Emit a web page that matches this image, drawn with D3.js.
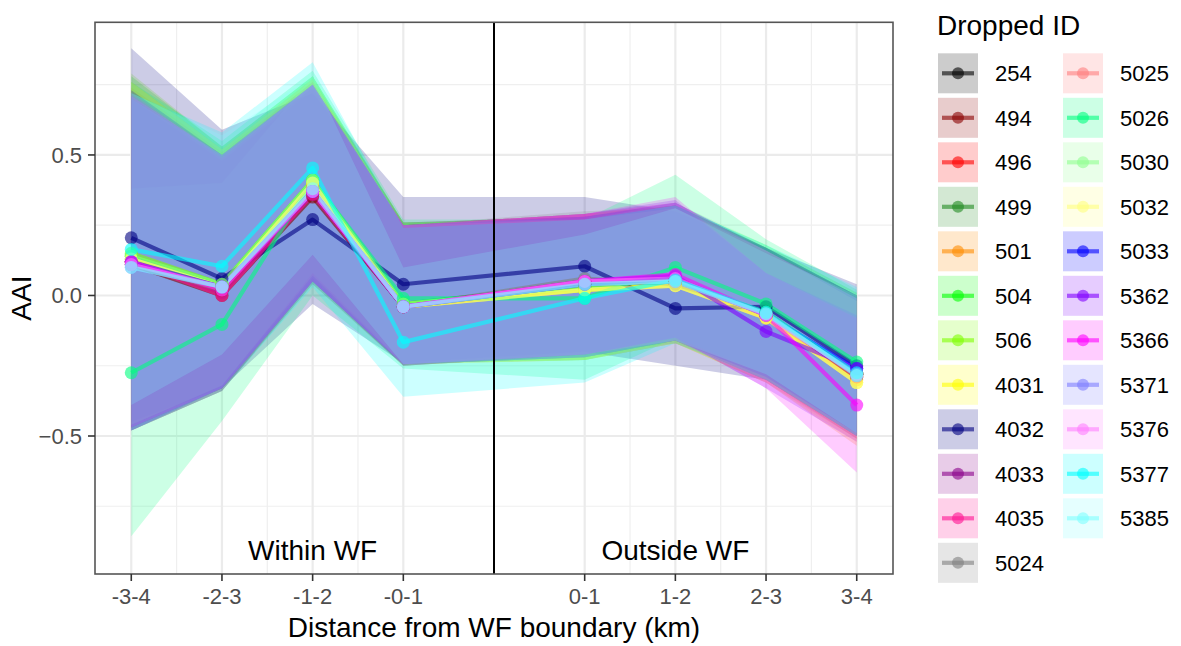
<!DOCTYPE html>
<html lang="en">
<head>
  <meta charset="UTF-8">
  <title>AAI by distance from WF boundary</title>
  <script src="https://d3js.org/d3.v7.min.js"></script>
  <style>
    html, body {
      margin: 0;
      background: #fff;
      font-family: "Liberation Sans", Arial, sans-serif;
    }
    svg text { font-family: "Liberation Sans", Arial, sans-serif; }
  </style>
</head>
<body>
  <svg id="chart" width="1181" height="646"></svg>

  <script>
    // ---- data ----
    const xPos = [-4, -3, -2, -1, 1, 2, 3, 4];
    const xLabels = ["-3-4", "-2-3", "-1-2", "-0-1", "0-1", "1-2", "2-3", "3-4"];
    const yTicks = [-0.5, 0, 0.5];

    const ids = ["254", "494", "496", "499", "501", "504", "506", "4031", "4032", "4033", "4035", "5024",
      "5025", "5026", "5030", "5032", "5033", "5362", "5366", "5371", "5376", "5377", "5385"];

    const colors = ["#000000", "#8B0000", "#FF0000", "#228B22", "#FF8C00", "#00FF00", "#7FFF00", "#FFFF00",
      "#000080", "#8B008B", "#FF1493", "#808080", "#FF7F7F", "#00FF7F", "#8FFF8F", "#FFFF7F",
      "#0000FF", "#8000FF", "#FF00FF", "#7F7FFF", "#FF7FFF", "#00FFFF", "#7FFFFF"];

    const aai = {
      "254":  [0.12, 0.02, 0.37, -0.04, 0.03, 0.05, -0.07, -0.28],
      "494":  [0.11, 0.00, 0.35, -0.04, 0.05, 0.05, -0.07, -0.28],
      "496":  [0.12, 0.02, 0.38, -0.04, 0.04, 0.05, -0.07, -0.29],
      "499":  [0.13, 0.03, 0.40, -0.03, 0.04, 0.05, -0.06, -0.28],
      "501":  [0.12, 0.03, 0.39, -0.04, 0.03, 0.05, -0.08, -0.30],
      "504":  [0.14, 0.04, 0.41, -0.03, 0.03, 0.06, -0.07, -0.28],
      "506":  [0.15, 0.04, 0.41, -0.03, 0.02, 0.04, -0.07, -0.29],
      "4031": [0.13, 0.03, 0.40, -0.04, 0.02, 0.035, -0.08, -0.31],
      "4032": [0.205, 0.06, 0.27, 0.04, 0.104, -0.046, -0.04, -0.25],
      "4033": [0.12, 0.01, 0.36, -0.04, 0.05, 0.06, -0.07, -0.28],
      "4035": [0.12, 0.00, 0.36, -0.04, 0.05, 0.06, -0.07, -0.29],
      "5024": [0.11, 0.02, 0.37, -0.04, 0.06, 0.04, -0.06, -0.28],
      "5025": [0.12, 0.02, 0.38, -0.04, 0.05, 0.05, -0.07, -0.28],
      "5026": [-0.275, -0.103, 0.41, -0.01, -0.01, 0.10, -0.03, -0.237],
      "5030": [0.14, 0.04, 0.41, -0.03, 0.03, 0.06, -0.07, -0.28],
      "5032": [0.13, 0.03, 0.40, -0.04, 0.02, 0.035, -0.08, -0.31],
      "5033": [0.12, 0.03, 0.37, -0.04, 0.04, 0.06, -0.07, -0.26],
      "5362": [0.11, 0.03, 0.37, -0.04, 0.05, 0.07, -0.128, -0.26],
      "5366": [0.12, 0.02, 0.37, -0.04, 0.05, 0.075, -0.07, -0.39],
      "5371": [0.10, 0.03, 0.37, -0.04, 0.04, 0.05, -0.065, -0.285],
      "5376": [0.11, 0.03, 0.37, -0.04, 0.05, 0.06, -0.07, -0.28],
      "5377": [0.164, 0.104, 0.454, -0.166, -0.01, 0.055, -0.06, -0.275],
      "5385": [0.10, 0.03, 0.38, -0.04, 0.04, 0.05, -0.065, -0.285]
    };

    const upper = {
      "254":  [0.72, 0.50, 0.75, 0.25, 0.28, 0.32, 0.17, 0.00],
      "494":  [0.70, 0.48, 0.73, 0.25, 0.29, 0.32, 0.16, 0.00],
      "496":  [0.73, 0.50, 0.76, 0.26, 0.28, 0.32, 0.17, -0.01],
      "499":  [0.76, 0.52, 0.77, 0.26, 0.28, 0.32, 0.17, 0.00],
      "501":  [0.74, 0.51, 0.76, 0.25, 0.27, 0.31, 0.16, -0.01],
      "504":  [0.78, 0.53, 0.78, 0.26, 0.27, 0.32, 0.18, 0.01],
      "506":  [0.79, 0.53, 0.78, 0.26, 0.27, 0.31, 0.17, 0.00],
      "4031": [0.76, 0.52, 0.77, 0.25, 0.27, 0.31, 0.16, -0.02],
      "4032": [0.88, 0.59, 0.72, 0.35, 0.35, 0.30, 0.17, 0.04],
      "4033": [0.71, 0.49, 0.74, 0.25, 0.29, 0.33, 0.16, 0.00],
      "4035": [0.71, 0.48, 0.74, 0.25, 0.29, 0.33, 0.16, -0.01],
      "5024": [0.70, 0.50, 0.75, 0.25, 0.30, 0.31, 0.17, 0.00],
      "5025": [0.72, 0.50, 0.76, 0.25, 0.29, 0.32, 0.16, 0.00],
      "5026": [0.76, 0.55, 0.80, 0.27, 0.27, 0.43, 0.20, 0.02],
      "5030": [0.38, 0.40, 0.78, 0.26, 0.27, 0.33, 0.18, 0.01],
      "5032": [0.76, 0.52, 0.77, 0.25, 0.27, 0.31, 0.16, -0.02],
      "5033": [0.73, 0.50, 0.75, 0.25, 0.28, 0.33, 0.17, 0.00],
      "5362": [0.71, 0.50, 0.75, 0.25, 0.29, 0.34, 0.08, -0.07],
      "5366": [0.72, 0.49, 0.75, 0.25, 0.29, 0.35, 0.08, -0.08],
      "5371": [0.70, 0.50, 0.75, 0.25, 0.28, 0.32, 0.16, -0.01],
      "5376": [0.71, 0.50, 0.75, 0.25, 0.29, 0.33, 0.16, -0.01],
      "5377": [0.72, 0.58, 0.83, 0.24, 0.27, 0.32, 0.18, 0.03],
      "5385": [0.72, 0.57, 0.78, 0.10, 0.217, 0.31, 0.15, 0.00]
    };

    const lower = {
      "254":  [-0.47, -0.33, 0.06, -0.245, -0.22, -0.16, -0.30, -0.50],
      "494":  [-0.48, -0.34, 0.04, -0.25, -0.21, -0.16, -0.30, -0.50],
      "496":  [-0.47, -0.33, 0.06, -0.245, -0.22, -0.16, -0.30, -0.51],
      "499":  [-0.46, -0.32, 0.07, -0.24, -0.22, -0.16, -0.29, -0.50],
      "501":  [-0.47, -0.33, 0.06, -0.245, -0.23, -0.17, -0.31, -0.535],
      "504":  [-0.46, -0.32, 0.08, -0.24, -0.23, -0.16, -0.30, -0.50],
      "506":  [-0.45, -0.32, 0.08, -0.24, -0.23, -0.17, -0.30, -0.51],
      "4031": [-0.46, -0.32, 0.07, -0.245, -0.23, -0.17, -0.31, -0.52],
      "4032": [-0.45, -0.33, -0.03, -0.24, -0.20, -0.25, -0.30, -0.50],
      "4033": [-0.48, -0.34, 0.05, -0.25, -0.21, -0.16, -0.30, -0.50],
      "4035": [-0.48, -0.34, 0.05, -0.25, -0.21, -0.16, -0.31, -0.51],
      "5024": [-0.48, -0.33, 0.05, -0.25, -0.20, -0.17, -0.29, -0.50],
      "5025": [-0.47, -0.33, 0.06, -0.245, -0.21, -0.16, -0.30, -0.50],
      "5026": [-0.857, -0.447, 0.00, -0.26, -0.30, -0.15, -0.28, -0.49],
      "5030": [-0.46, -0.32, 0.08, -0.24, -0.23, -0.16, -0.30, -0.50],
      "5032": [-0.46, -0.32, 0.07, -0.245, -0.23, -0.17, -0.31, -0.52],
      "5033": [-0.47, -0.33, 0.05, -0.245, -0.22, -0.16, -0.29, -0.49],
      "5362": [-0.48, -0.33, 0.05, -0.245, -0.21, -0.15, -0.33, -0.52],
      "5366": [-0.47, -0.33, 0.05, -0.245, -0.21, -0.15, -0.33, -0.63],
      "5371": [-0.48, -0.33, 0.06, -0.245, -0.22, -0.16, -0.30, -0.50],
      "5376": [-0.47, -0.33, 0.05, -0.245, -0.21, -0.16, -0.31, -0.52],
      "5377": [-0.48, -0.34, 0.03, -0.36, -0.31, -0.17, -0.30, -0.50],
      "5385": [-0.39, -0.21, 0.145, -0.245, -0.22, -0.16, -0.28, -0.49]
    };

    const regionLabels = [{ x: -2, text: "Within WF" }, { x: 2, text: "Outside WF" }];

    // ---- layout ----
    const svg = d3.select("#chart");
    const panel = { left: 95, right: 893, top: 22.3, bottom: 574 };

    const x = d3.scaleLinear().domain([-4.4, 4.4]).range([panel.left, panel.right]);
    const y = d3.scaleLinear().domain([-0.991, 0.972]).range([panel.bottom, panel.top]);

    const color = d3.scaleOrdinal().domain(ids).range(colors);

    const series = ids.map(id => ({
      id,
      points: xPos.map((p, i) => ({ x: p, v: aai[id][i], lo: lower[id][i], hi: upper[id][i] }))
    }));

    svg.append("rect").attr("width", 1181).attr("height", 646).attr("fill", "#fff");

    // grid
    const grid = svg.append("g");
    const minorX = [-3.5, -2.5, -1.5, 0, 1.5, 2.5, 3.5];
    const minorY = [-0.75, -0.25, 0.25, 0.75];
    grid.selectAll(".gxm").data(minorX).enter().append("line")
      .attr("x1", d => x(d)).attr("x2", d => x(d))
      .attr("y1", panel.top).attr("y2", panel.bottom)
      .attr("stroke", "#efefef").attr("stroke-width", 1.2);
    grid.selectAll(".gym").data(minorY).enter().append("line")
      .attr("x1", panel.left).attr("x2", panel.right)
      .attr("y1", d => y(d)).attr("y2", d => y(d))
      .attr("stroke", "#efefef").attr("stroke-width", 1.2);
    grid.selectAll(".gx").data(xPos).enter().append("line")
      .attr("x1", d => x(d)).attr("x2", d => x(d))
      .attr("y1", panel.top).attr("y2", panel.bottom)
      .attr("stroke", "#ebebeb").attr("stroke-width", 2.2);
    grid.selectAll(".gy").data(yTicks).enter().append("line")
      .attr("x1", panel.left).attr("x2", panel.right)
      .attr("y1", d => y(d)).attr("y2", d => y(d))
      .attr("stroke", "#ebebeb").attr("stroke-width", 2.2);

    // ribbons, then lines, then points (ggplot layer order)
    const area = d3.area().x(d => x(d.x)).y0(d => y(d.lo)).y1(d => y(d.hi));
    const line = d3.line().x(d => x(d.x)).y(d => y(d.v));

    svg.append("g").selectAll("path").data(series).enter().append("path")
      .attr("d", d => area(d.points))
      .attr("fill", d => color(d.id))
      .attr("fill-opacity", 0.2);

    svg.append("g").selectAll("path").data(series).enter().append("path")
      .attr("d", d => line(d.points))
      .attr("fill", "none")
      .attr("stroke", d => color(d.id))
      .attr("stroke-opacity", 0.6)
      .attr("stroke-width", 4.2)
      .attr("stroke-linejoin", "round");

    const pts = svg.append("g");
    series.forEach(s => {
      pts.selectAll(null).data(s.points).enter().append("circle")
        .attr("cx", d => x(d.x))
        .attr("cy", d => y(d.v))
        .attr("r", 6.5)
        .attr("fill", color(s.id))
        .attr("fill-opacity", 0.6);
    });

    // boundary line
    svg.append("line")
      .attr("x1", x(0)).attr("x2", x(0))
      .attr("y1", panel.top).attr("y2", panel.bottom)
      .attr("stroke", "#000").attr("stroke-width", 2);

    // region annotations
    svg.append("g").selectAll("text").data(regionLabels).enter().append("text")
      .attr("x", d => x(d.x)).attr("y", 560)
      .attr("text-anchor", "middle")
      .attr("font-size", 28)
      .attr("fill", "#000")
      .text(d => d.text);

    // panel border
    svg.append("rect")
      .attr("x", panel.left).attr("y", panel.top)
      .attr("width", panel.right - panel.left).attr("height", panel.bottom - panel.top)
      .attr("fill", "none").attr("stroke", "#555").attr("stroke-width", 1.6);

    // x axis
    const xAxis = svg.append("g");
    xAxis.selectAll("line").data(xPos).enter().append("line")
      .attr("x1", d => x(d)).attr("x2", d => x(d))
      .attr("y1", panel.bottom).attr("y2", panel.bottom + 7)
      .attr("stroke", "#333").attr("stroke-width", 1.6);
    xAxis.selectAll("text").data(xPos).enter().append("text")
      .attr("x", d => x(d)).attr("y", 604)
      .attr("text-anchor", "middle")
      .attr("font-size", 22)
      .attr("fill", "#4d4d4d")
      .text((d, i) => xLabels[i]);

    svg.append("text")
      .attr("x", (panel.left + panel.right) / 2).attr("y", 637)
      .attr("text-anchor", "middle")
      .attr("font-size", 28)
      .text("Distance from WF boundary (km)");

    // y axis
    const yAxis = svg.append("g");
    yAxis.selectAll("line").data(yTicks).enter().append("line")
      .attr("x1", panel.left - 7).attr("x2", panel.left)
      .attr("y1", d => y(d)).attr("y2", d => y(d))
      .attr("stroke", "#333").attr("stroke-width", 1.6);
    yAxis.selectAll("text").data(yTicks).enter().append("text")
      .attr("x", 82).attr("y", d => y(d))
      .attr("dy", "0.36em")
      .attr("text-anchor", "end")
      .attr("font-size", 22)
      .attr("fill", "#4d4d4d")
      .text(d => d3.format(".1f")(d));

    svg.append("text")
      .attr("transform", `translate(31, ${(panel.top + panel.bottom) / 2}) rotate(-90)`)
      .attr("text-anchor", "middle")
      .attr("font-size", 28)
      .text("AAI");

    // legend
    const legend = svg.append("g");
    legend.append("text")
      .attr("x", 937).attr("y", 35)
      .attr("font-size", 28)
      .text("Dropped ID");

    const rowsPerCol = 12;
    const keys = legend.selectAll(".key").data(ids).enter().append("g")
      .attr("transform", (d, i) => {
        const col = Math.floor(i / rowsPerCol);
        const row = i % rowsPerCol;
        return `translate(${938 + col * 125}, ${53.3 + row * 44.5})`;
      });
    keys.append("rect")
      .attr("width", 40).attr("height", 40)
      .attr("fill", d => color(d)).attr("fill-opacity", 0.2);
    keys.append("line")
      .attr("x1", 4).attr("x2", 36).attr("y1", 20).attr("y2", 20)
      .attr("stroke", d => color(d)).attr("stroke-opacity", 0.6)
      .attr("stroke-width", 4.2);
    keys.append("circle")
      .attr("cx", 20).attr("cy", 20).attr("r", 6)
      .attr("fill", d => color(d)).attr("fill-opacity", 0.6);
    keys.append("text")
      .attr("x", 57).attr("y", 20).attr("dy", "0.36em")
      .attr("font-size", 22)
      .text(d => d);
  </script>
</body>
</html>
